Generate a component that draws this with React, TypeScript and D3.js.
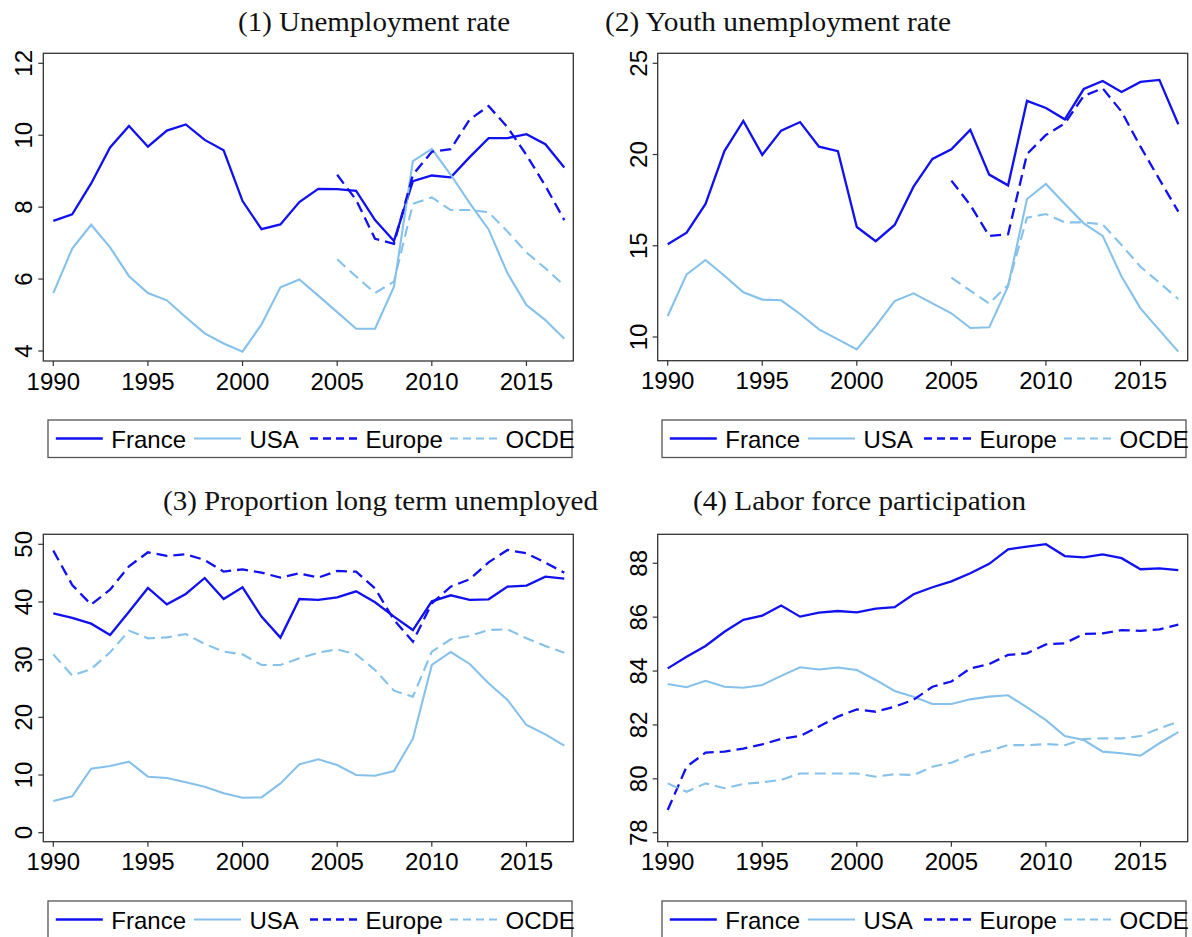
import React from "react";
import * as d3 from "d3";

const years = [1990,1991,1992,1993,1994,1995,1996,1997,1998,1999,2000,2001,2002,2003,2004,2005,2006,2007,2008,2009,2010,2011,2012,2013,2014,2015,2016,2017];
const yearsLate = [2005,2006,2007,2008,2009,2010,2011,2012,2013,2014,2015,2016,2017];
const xTicks = [1990, 1995, 2000, 2005, 2010, 2015];
const seriesNames = ["France", "USA", "Europe", "OCDE"];

// (1) Unemployment rate
const unempFrance = [7.62,7.80,8.66,9.66,10.26,9.68,10.13,10.30,9.87,9.58,8.17,7.39,7.52,8.14,8.51,8.50,8.45,7.64,7.06,8.72,8.88,8.83,9.39,9.92,9.92,10.03,9.75,9.10];
const unempUSA = [5.61,6.85,7.51,6.88,6.08,5.61,5.41,4.94,4.49,4.21,3.98,4.74,5.77,5.99,5.54,5.08,4.62,4.62,5.79,9.28,9.62,8.90,8.11,7.38,6.16,5.28,4.86,4.34];
const unempEurope = [8.90,8.20,7.12,6.98,8.90,9.54,9.61,10.44,10.81,10.22,9.45,8.59,7.64];
const unempOCDE = [6.55,6.07,5.61,5.93,8.09,8.27,7.92,7.92,7.86,7.32,6.74,6.30,5.82];
const unempTicks = [4, 6, 8, 10, 12];

// (2) Youth unemployment rate
const youthFrance = [15.08,15.72,17.29,20.19,21.84,19.98,21.31,21.78,20.43,20.18,16.03,15.25,16.14,18.24,19.76,20.29,21.35,18.90,18.31,22.94,22.55,21.93,23.59,24.03,23.43,23.98,24.09,21.66];
const youthUSA = [11.15,13.43,14.22,13.36,12.45,12.05,12.01,11.26,10.42,9.87,9.32,10.60,11.97,12.39,11.84,11.30,10.49,10.53,12.79,17.56,18.39,17.29,16.23,15.54,13.31,11.57,10.38,9.20];
const youthEurope = [18.57,17.23,15.54,15.63,20.03,21.07,21.71,23.21,23.63,22.35,20.43,18.64,16.87];
const youthOCDE = [13.25,12.54,11.84,12.85,16.54,16.74,16.28,16.28,16.17,15.04,13.85,12.98,12.08];
const youthTicks = [10, 15, 20, 25];

// (3) Proportion long term unemployed
const longFrance = [38.03,37.23,36.24,34.28,38.32,42.43,39.60,41.39,44.16,40.52,42.54,37.46,33.82,40.52,40.35,40.81,41.85,39.94,37.46,35.14,40.12,41.16,40.35,40.46,42.66,42.83,44.39,44.05];
const longUSA = [5.49,6.30,11.10,11.56,12.31,9.71,9.48,8.73,7.98,6.82,6.07,6.13,8.55,11.85,12.72,11.73,10.00,9.88,10.69,16.30,29.08,31.33,29.25,25.90,23.01,18.67,17.05,15.09];
const longEurope = [48.90,42.95,39.54,42.14,46.18,48.61,47.98,48.27,47.28,45.26,45.66,45.09,44.22,44.97,44.22,45.38,45.26,42.37,36.88,33.12,39.77,42.66,43.93,46.88,49.02,48.44,46.82,45.09];
const longOCDE = [30.92,27.23,28.38,31.27,35.03,33.70,33.87,34.45,32.72,31.39,30.92,29.08,29.08,30.23,31.21,31.79,30.92,28.21,24.62,23.58,31.39,33.53,34.10,35.14,35.26,33.70,32.37,31.21];
const longTicks = [0, 10, 20, 30, 40, 50];

// (4) Labor force participation
const lfpFrance = [84.10,84.53,84.93,85.46,85.90,86.06,86.43,86.02,86.17,86.23,86.18,86.32,86.37,86.85,87.11,87.33,87.63,87.98,88.52,88.62,88.71,88.27,88.22,88.33,88.19,87.78,87.81,87.75];
const lfpUSA = [83.52,83.40,83.64,83.42,83.38,83.48,83.82,84.14,84.06,84.13,84.04,83.67,83.26,83.05,82.78,82.78,82.95,83.05,83.10,82.65,82.18,81.59,81.44,81.01,80.95,80.86,81.32,81.73];
const lfpEurope = [78.84,80.45,80.97,81.01,81.12,81.28,81.48,81.59,81.94,82.31,82.58,82.49,82.68,82.93,83.42,83.61,84.10,84.26,84.60,84.66,84.99,85.03,85.38,85.40,85.52,85.49,85.55,85.72];
const lfpOCDE = [79.83,79.52,79.83,79.65,79.81,79.87,79.96,80.20,80.20,80.20,80.20,80.08,80.17,80.14,80.45,80.60,80.88,81.04,81.25,81.25,81.29,81.25,81.48,81.50,81.50,81.59,81.87,82.12];
const lfpTicks = [78, 80, 82, 84, 86, 88];

const DARK = "#1010f0";
const LIGHT = "#85c1ea";
const styles = [
  { color: DARK, dash: null, width: 2.3 },
  { color: LIGHT, dash: null, width: 2.1 },
  { color: DARK, dash: "11,6", width: 2.3 },
  { color: LIGHT, dash: "11,6", width: 2.1 },
];
const legendDash = "8,5";

const SANS = "'Liberation Sans', Arial, Helvetica, sans-serif";
const SERIF = "'Liberation Serif', 'Times New Roman', serif";

type Panel = {
  title: string; titleX: number; titleW: number; titleY: number;
  box: [number, number, number, number]; // left, top, right, bottom
  xr: [number, number];
  yDomain: [number, number]; yRange: [number, number];
  ticks: number[];
  series: { xs: number[]; ys: number[] }[];
  legendX: number; legendY: number; legendW: number; legendH: number;
};

const panels: Panel[] = [
  {
    title: "(1) Unemployment rate", titleX: 238, titleW: 272, titleY: 31,
    box: [43.3, 53.3, 573.3, 361], xr: [53.3, 564.3],
    yDomain: [4, 12], yRange: [351, 63.3], ticks: unempTicks,
    series: [
      { xs: years, ys: unempFrance }, { xs: years, ys: unempUSA },
      { xs: yearsLate, ys: unempEurope }, { xs: yearsLate, ys: unempOCDE },
    ],
    legendX: 48, legendY: 420, legendW: 524, legendH: 37.5,
  },
  {
    title: "(2) Youth unemployment rate", titleX: 605, titleW: 346, titleY: 31,
    box: [657.7, 53.3, 1187.7, 360.7], xr: [667.7, 1178.3],
    yDomain: [10, 25], yRange: [337, 63.3], ticks: youthTicks,
    series: [
      { xs: years, ys: youthFrance }, { xs: years, ys: youthUSA },
      { xs: yearsLate, ys: youthEurope }, { xs: yearsLate, ys: youthOCDE },
    ],
    legendX: 662, legendY: 420, legendW: 524, legendH: 37.5,
  },
  {
    title: "(3) Proportion long term unemployed", titleX: 163, titleW: 435, titleY: 510,
    box: [43.3, 534.3, 573.3, 841.7], xr: [53.3, 564.3],
    yDomain: [0, 50], yRange: [832.7, 544.3], ticks: longTicks,
    series: [
      { xs: years, ys: longFrance }, { xs: years, ys: longUSA },
      { xs: years, ys: longEurope }, { xs: years, ys: longOCDE },
    ],
    legendX: 48, legendY: 901, legendW: 524, legendH: 60,
  },
  {
    title: "(4) Labor force participation", titleX: 693, titleW: 333, titleY: 510,
    box: [657.7, 534.3, 1187.7, 841.7], xr: [667.7, 1178.3],
    yDomain: [78, 88], yRange: [832.7, 563.3], ticks: lfpTicks,
    series: [
      { xs: years, ys: lfpFrance }, { xs: years, ys: lfpUSA },
      { xs: years, ys: lfpEurope }, { xs: years, ys: lfpOCDE },
    ],
    legendX: 662, legendY: 901, legendW: 524, legendH: 60,
  },
];

const legendOffsets = [7.8, 146, 262, 402];

function PanelView({ p }: { p: Panel }) {
  const x = d3.scaleLinear().domain([1990, 2017]).range(p.xr);
  const y = d3.scaleLinear().domain(p.yDomain).range(p.yRange);
  const [l, t, r, b] = p.box;
  const line = d3.line<[number, number]>().x((d) => x(d[0])).y((d) => y(d[1]));
  return (
    <g>
      <text x={p.titleX} y={p.titleY} fontFamily={SERIF} fontSize={27} textLength={p.titleW} lengthAdjust="spacingAndGlyphs" fill="#111">
        {p.title}
      </text>
      <rect x={l} y={t} width={r - l} height={b - t} fill="#fff" stroke="#333" strokeWidth={1.3} />
      {p.series.map((s, i) => (
        <path key={i} d={line(s.xs.map((xv, k) => [xv, s.ys[k]] as [number, number])) || ""}
          fill="none" stroke={styles[i].color} strokeWidth={styles[i].width}
          strokeDasharray={styles[i].dash || undefined} strokeLinejoin="miter" />
      ))}
      {p.ticks.map((tv) => (
        <g key={tv}>
          <line x1={l - 5} x2={l} y1={y(tv)} y2={y(tv)} stroke="#333" strokeWidth={1.2} />
          <text transform={`translate(${l - 11},${y(tv)}) rotate(-90)`} textAnchor="middle"
            fontFamily={SANS} fontSize={24} fill="#000">{tv}</text>
        </g>
      ))}
      {xTicks.map((tv) => (
        <g key={tv}>
          <line x1={x(tv)} x2={x(tv)} y1={b} y2={b + 5} stroke="#333" strokeWidth={1.2} />
          <text x={x(tv)} y={b + 28.5} textAnchor="middle" fontFamily={SANS} fontSize={24} fill="#000">{tv}</text>
        </g>
      ))}
      <rect x={p.legendX} y={p.legendY} width={p.legendW} height={p.legendH} fill="#fff" stroke="#555" strokeWidth={1.3} />
      {seriesNames.map((name, i) => {
        const lx = p.legendX + legendOffsets[i];
        return (
          <g key={name}>
            <line x1={lx} x2={lx + 47} y1={p.legendY + 18.5} y2={p.legendY + 18.5}
              stroke={styles[i].color} strokeWidth={styles[i].width}
              strokeDasharray={styles[i].dash ? legendDash : undefined} />
            <text x={lx + 55.5} y={p.legendY + 28} fontFamily={SANS} fontSize={24} fill="#000">{name}</text>
          </g>
        );
      })}
    </g>
  );
}

export default function App() {
  return (
    <svg width={1192} height={937} style={{ position: "absolute", left: 0, top: 0, background: "#fff" }}>
      <rect x={0} y={0} width={1192} height={937} fill="#fff" />
      {panels.map((p, i) => <PanelView key={i} p={p} />)}
    </svg>
  );
}
